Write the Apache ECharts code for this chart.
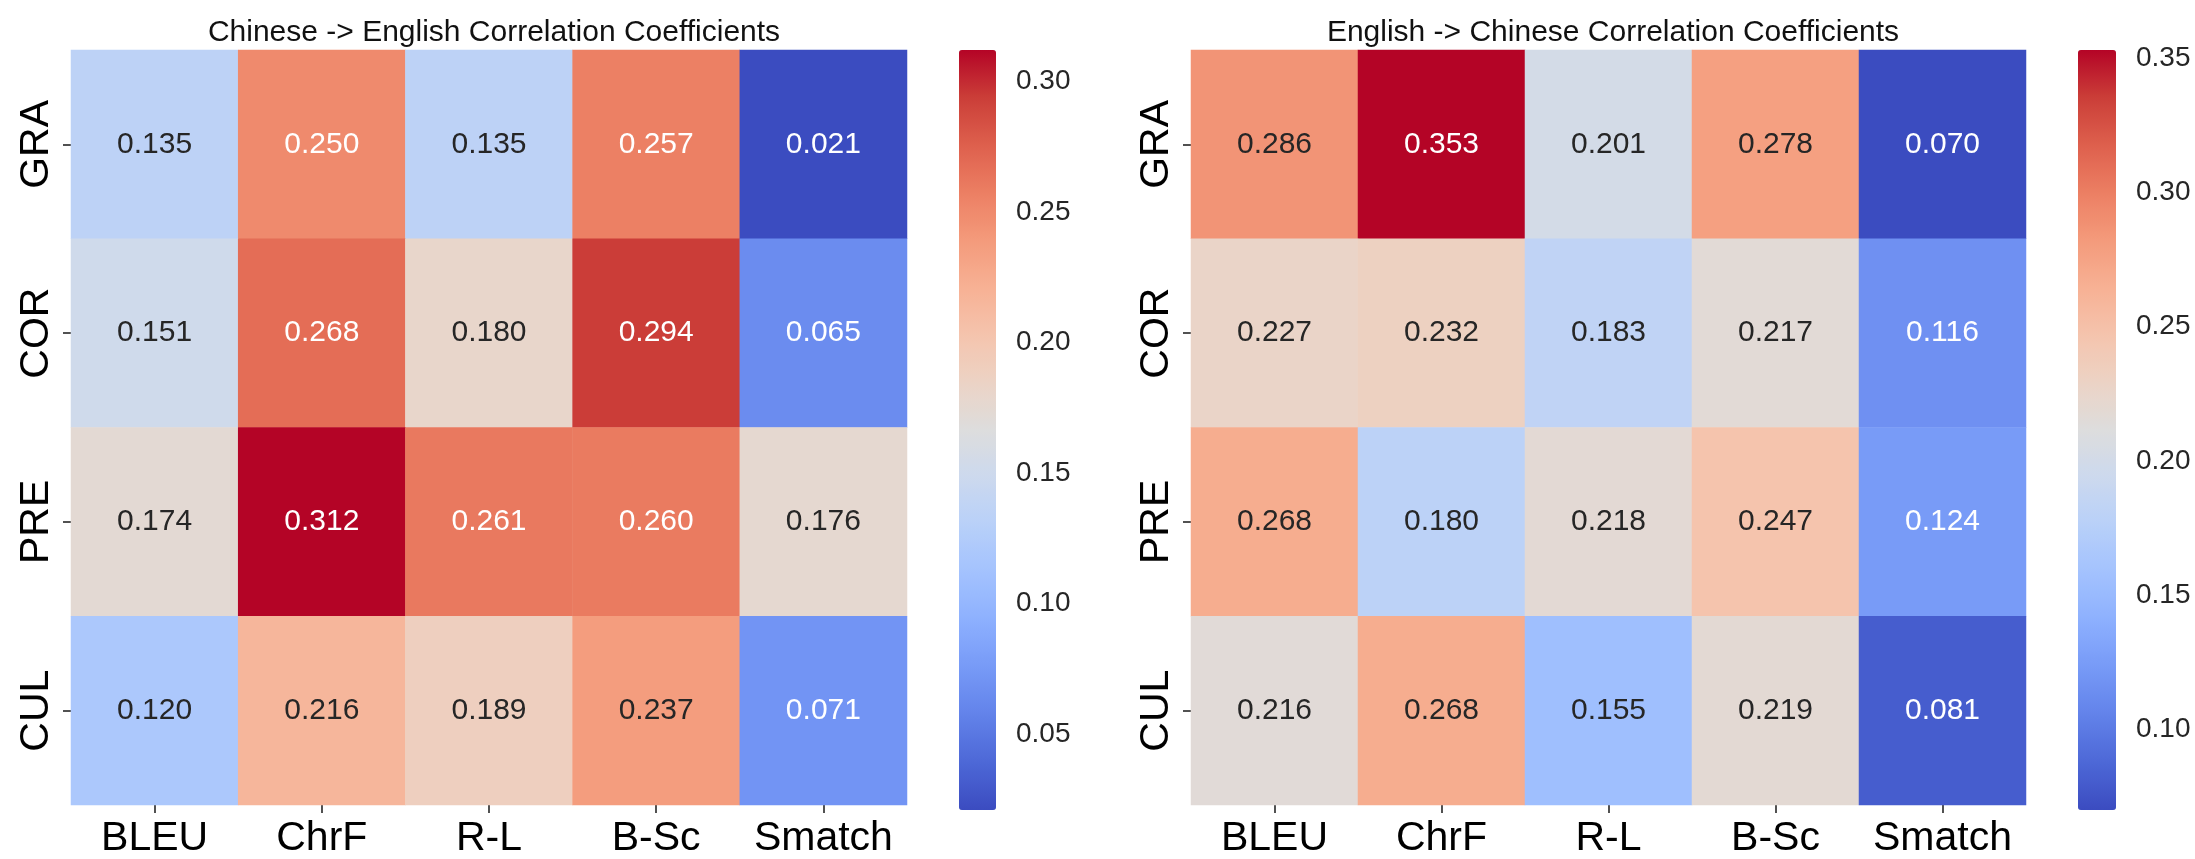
<!DOCTYPE html>
<html>
<head>
<meta charset="utf-8">
<script src="https://cdn.jsdelivr.net/npm/echarts@6/dist/echarts.min.js"></script>
<style>
html,body{margin:0;padding:0;background:#fff;}
#main{width:2195px;height:859px;}
</style>
</head>
<body>
<div id="main"></div>
<script>
// ---- data ----
const metrics = ['BLEU', 'ChrF', 'R-L', 'B-Sc', 'Smatch'];
const aspects = ['GRA', 'COR', 'PRE', 'CUL'];
const titleZhEn = 'Chinese -> English Correlation Coefficients';
const titleEnZh = 'English -> Chinese Correlation Coefficients';
const zhEnGRA = [0.135, 0.250, 0.135, 0.257, 0.021];
const zhEnCOR = [0.151, 0.268, 0.180, 0.294, 0.065];
const zhEnPRE = [0.174, 0.312, 0.261, 0.260, 0.176];
const zhEnCUL = [0.120, 0.216, 0.189, 0.237, 0.071];
const enZhGRA = [0.286, 0.353, 0.201, 0.278, 0.070];
const enZhCOR = [0.227, 0.232, 0.183, 0.217, 0.116];
const enZhPRE = [0.268, 0.180, 0.218, 0.247, 0.124];
const enZhCUL = [0.216, 0.268, 0.155, 0.219, 0.081];
const zhEnTicks = [0.05, 0.10, 0.15, 0.20, 0.25, 0.30];
const enZhTicks = [0.10, 0.15, 0.20, 0.25, 0.30, 0.35];

// ---- styling ----
const FONT = "'Liberation Sans', Arial, Helvetica, sans-serif";
const DARK = '#262626';
// matplotlib coolwarm sampled every 1/16
const coolwarm = ['#3b4cc0','#4d68d7','#6282ea','#779af7','#8db0fe','#a3c2fe','#b8d0f9','#ccd9ee',
  '#dddddd','#ecd3c5','#f5c4ad','#f7b194','#f49a7b','#ec7f63','#de604d','#cb3e38','#b40426'];

function hexToRgb(h){return [parseInt(h.substr(1,2),16),parseInt(h.substr(3,2),16),parseInt(h.substr(5,2),16)];}
function cmap(t){
  t = Math.max(0, Math.min(1, t));
  const n = coolwarm.length - 1;
  const p = t * n; const i = Math.min(Math.floor(p), n - 1); const f = p - i;
  const a = hexToRgb(coolwarm[i]), b = hexToRgb(coolwarm[i+1]);
  return [0,1,2].map(k => a[k] + (b[k]-a[k]) * f);
}
function lum(rgb){
  const c = rgb.map(v => { v = v/255; return v <= 0.03928 ? v/12.92 : Math.pow((v+0.055)/1.055, 2.4); });
  return 0.2126*c[0] + 0.7152*c[1] + 0.0722*c[2];
}
function buildData(rows){
  const all = rows.flat();
  const mn = Math.min(...all), mx = Math.max(...all);
  const data = [];
  rows.forEach((row, r) => row.forEach((v, c) => {
    const L = lum(cmap((v - mn) / (mx - mn)));
    data.push({value: [c, r, v], label: {color: L > 0.408 ? DARK : '#ffffff'}});
  }));
  return {data, mn, mx};
}
const left = buildData([zhEnGRA, zhEnCOR, zhEnPRE, zhEnCUL]);
const right = buildData([enZhGRA, enZhCOR, enZhPRE, enZhCUL]);

const G = [
  {left: 71, top: 50, width: 836, height: 760},
  {left: 1191, top: 50, width: 835, height: 760},
  {left: 959, top: 50, width: 37, height: 760},
  {left: 2078, top: 50, width: 38, height: 760}
];

function catX(gi){
  return {type: 'category', gridIndex: gi, data: metrics,
    axisLine: {show: false},
    axisTick: {show: true, alignWithLabel: true, length: 8, lineStyle: {color: DARK, width: 1.6}},
    axisLabel: {interval: 0, fontSize: 41, color: '#000', fontFamily: FONT, margin: 13},
    splitLine: {show: false}, splitArea: {show: false}};
}
function catY(gi){
  return {type: 'category', gridIndex: gi, data: aspects, inverse: true,
    axisLine: {show: false},
    axisTick: {show: true, alignWithLabel: true, length: 8, lineStyle: {color: DARK, width: 1.6}},
    axisLabel: {interval: 0, fontSize: 41, color: '#000', fontFamily: FONT, rotate: 90, margin: 14},
    splitLine: {show: false}, splitArea: {show: false}};
}
function barX(gi){
  return {type: 'value', gridIndex: gi, show: false, min: 0, max: 1};
}
function barY(gi, mn, mx, ticks){
  return {type: 'value', gridIndex: gi, position: 'right', min: mn, max: mx,
    axisLine: {show: false},
    axisTick: {show: true, length: 11, customValues: ticks, lineStyle: {color: DARK, width: 1.6}},
    axisLabel: {show: true, customValues: ticks, fontSize: 28, color: DARK, fontFamily: FONT, margin: 20,
      formatter: v => v.toFixed(2)},
    splitLine: {show: false}};
}

const labelStyle = {show: true, fontSize: 30, fontFamily: FONT, formatter: p => p.value[2].toFixed(3)};

const option = {
  backgroundColor: '#ffffff',
  animation: false,
  title: [
    {text: titleZhEn, left: 489, top: 13, textAlign: 'center',
      textStyle: {fontSize: 30, fontWeight: 'normal', color: '#111', fontFamily: FONT}},
    {text: titleEnZh, left: 1608, top: 13, textAlign: 'center',
      textStyle: {fontSize: 30, fontWeight: 'normal', color: '#111', fontFamily: FONT}}
  ],
  grid: G,
  xAxis: [catX(0), catX(1), barX(2), barX(3)],
  yAxis: [catY(0), catY(1), barY(2, left.mn, left.mx, zhEnTicks), barY(3, right.mn, right.mx, enZhTicks)],
  visualMap: [
    {type: 'continuous', seriesIndex: 0, min: left.mn, max: left.mx, calculable: false,
      orient: 'vertical', left: 959, top: 50, itemWidth: 37, itemHeight: 760, padding: 0,
      inRange: {color: coolwarm}},
    {type: 'continuous', seriesIndex: 1, min: right.mn, max: right.mx, calculable: false,
      orient: 'vertical', left: 2078, top: 50, itemWidth: 38, itemHeight: 760, padding: 0,
      inRange: {color: coolwarm}}
  ],
  series: [
    {type: 'heatmap', xAxisIndex: 0, yAxisIndex: 0, data: left.data, label: labelStyle,
      emphasis: {disabled: true}},
    {type: 'heatmap', xAxisIndex: 1, yAxisIndex: 1, data: right.data, label: labelStyle,
      emphasis: {disabled: true}}
  ]
};
const chart = echarts.init(document.getElementById('main'), null, {renderer: 'canvas'});
chart.setOption(option);
</script>
</body>
</html>
